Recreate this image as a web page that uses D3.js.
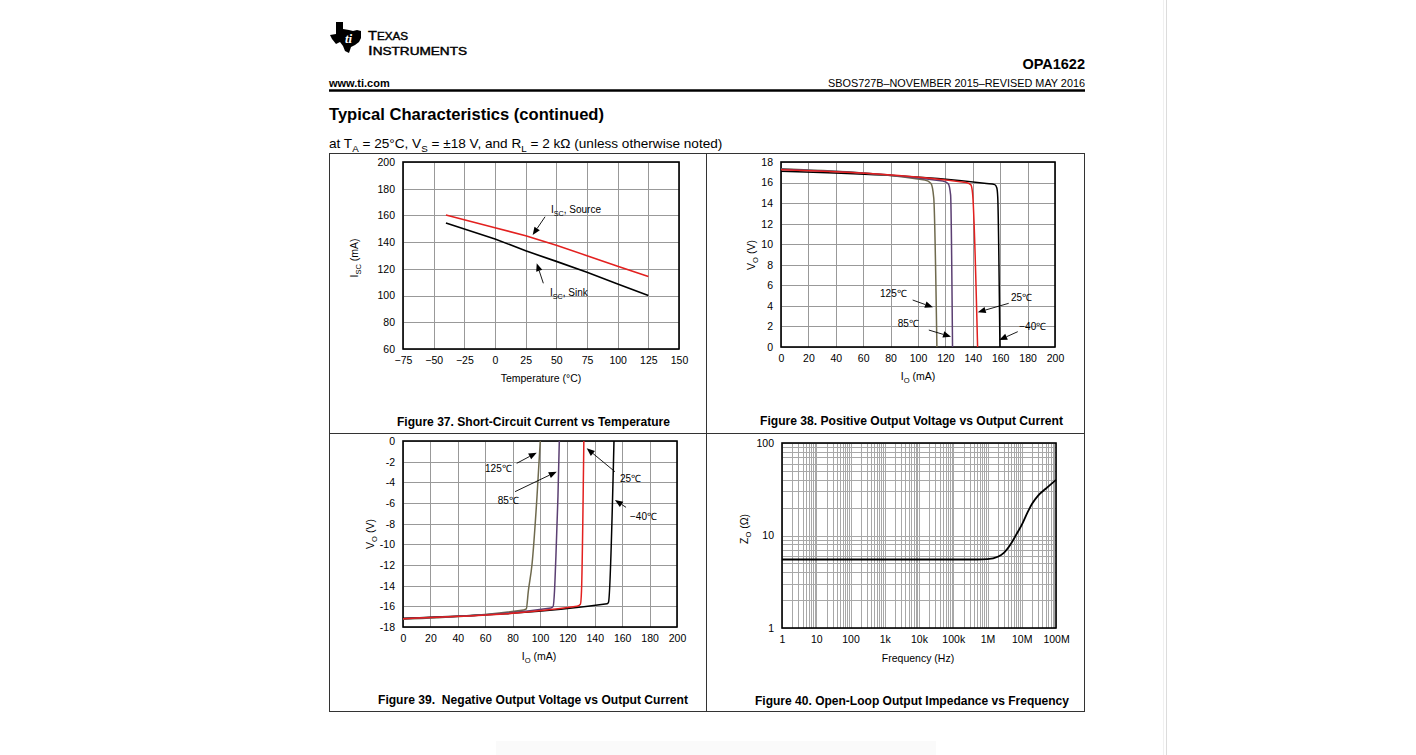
<!DOCTYPE html>
<html><head><meta charset="utf-8">
<script src="https://cdn.jsdelivr.net/npm/d3@7"></script>
<style>
html,body{margin:0;padding:0;background:#fff;}
svg{display:block;font-family:"Liberation Sans",Arial,sans-serif;}
text{white-space:pre;}
</style></head><body>
<svg id="c" width="1416" height="755"></svg>
<script>
// ---------------- DATA ----------------
// Figure 37: short-circuit current vs temperature
const fig37Temp   = [-40, 0, 25, 50, 75, 100, 125];
const fig37Source = [160.3, 150.8, 144.8, 137.6, 129.9, 121.9, 114.2];
const fig37Sink   = [154.3, 142.4, 133.5, 125.6, 117.4, 108.7, 100];
const fig37XTicks = [-75, -50, -25, 0, 25, 50, 75, 100, 125, 150];
const fig37YTicks = [60, 80, 100, 120, 140, 160, 180, 200];

// Figure 38: positive output voltage vs output current
const fig38IoM40 = [0, 150, 156, 157.5, 158.2, 159.8];
const fig38VoM40 = [17.1, 15.9, 15.8, 15.5, 14.6, 0];
const fig38Io25  = [0, 135, 138.5, 139.8, 143.5];
const fig38Vo25  = [17.25, 16.0, 15.8, 15.0, 0];
const fig38Io85  = [0, 118, 122, 123.8, 125.2];
const fig38Vo85  = [17.3, 16.15, 15.9, 14.8, 0];
const fig38Io125 = [0, 105, 109.5, 111.5, 113.8];
const fig38Vo125 = [17.35, 16.25, 15.9, 14.5, 0];
const fig38XTicks = [0, 20, 40, 60, 80, 100, 120, 140, 160, 180, 200];
const fig38YTicks = [0, 2, 4, 6, 8, 10, 12, 14, 16, 18];

// Figure 39: negative output voltage vs output current
const fig39IoM40 = [0, 149, 150, 154];
const fig39VoM40 = [-17.15, -15.75, -15.6, 0];
const fig39Io25  = [0, 127, 129.5, 130.3, 132];
const fig39Vo25  = [-17.2, -16.0, -15.8, -14.5, 0];
const fig39Io85  = [0, 108, 109.6, 110.6, 111.4, 113.1, 114.1];
const fig39Vo85  = [-17.2, -16.15, -16.0, -14.5, -11.9, -5.4, 0];
const fig39Io125 = [0, 88, 90, 91.5, 94.2, 97.8, 100.2];
const fig39Vo125 = [-17.25, -16.35, -16.25, -14.5, -11.9, -5.4, 0];
const fig39XTicks = [0, 20, 40, 60, 80, 100, 120, 140, 160, 180, 200];
const fig39YTicks = [-18, -16, -14, -12, -10, -8, -6, -4, -2, 0];

// Figure 40: open-loop output impedance vs frequency
const fig40Freq = [1, 10, 100, 1e3, 1e4, 1e5, 5e5, 1e6, 2e6, 3e6, 5e6, 7e6, 1e7, 1.5e7, 2e7, 3e7, 5e7, 1e8];
const fig40Zo   = [5.5, 5.5, 5.5, 5.5, 5.5, 5.5, 5.5, 5.55, 5.9, 6.5, 8.3, 10.3, 13, 18, 22, 27, 32, 40];
const fig40XTicks = [1, 10, 100, 1e3, 1e4, 1e5, 1e6, 1e7, 1e8];
const fig40XLabels = ["1", "10", "100", "1k", "10k", "100k", "1M", "10M", "100M"];
const fig40YTicks = [1, 10, 100];
const fig40YLabels = ["1", "10", "100"];

const tempLabels = ["125℃", "85℃", "25℃", "−40℃"];

// ---------------- DRAWING ----------------
const svg = d3.select("#c");
const FONT = '"Liberation Sans",Arial,sans-serif';
const C_RED = "#e3201f", C_PURPLE = "#5b3f72", C_OLIVE = "#6f6a4e", C_BLACK = "#000";

// right page edge shadow
svg.append("line").attr("x1",1163.5).attr("x2",1163.5).attr("y1",0).attr("y2",755).attr("stroke","#f0f0f0");
svg.append("line").attr("x1",1166.5).attr("x2",1166.5).attr("y1",0).attr("y2",755).attr("stroke","#dcdcdc");
svg.append("rect").attr("x",496).attr("y",741).attr("width",440).attr("height",14).attr("fill","#fafafa");

// ---- header ----
const logo = svg.append("g");
logo.append("path").attr("d",
 "M336,22 L343,22 L343,29 L349,30 L353,31 L357,30 L361,31 L361,38 L359,42 L355,45 L351,47 L349,53 L345,51 L343,46 L340,42 L336,44 L332,39 L330,35 L336,34 Z")
 .attr("fill","#000");
logo.append("text").attr("x",345).attr("y",43).attr("font-size",13).attr("font-style","italic")
 .attr("font-weight","bold").attr("fill","#fff").attr("font-family","Liberation Serif, serif").text("ti");
function logoLine(y, big, rest, len) {
  const t = logo.append("text").attr("x",368).attr("y",y).attr("font-family",'"Liberation Sans Narrow",sans-serif')
    .attr("font-size",12.5).attr("fill","#000").attr("stroke","#000").attr("stroke-width",0.4)
    .attr("textLength",len).attr("lengthAdjust","spacingAndGlyphs");
  t.append("tspan").text(big);
  t.append("tspan").attr("font-size",10).text(rest);
}
logoLine(40, "T", "EXAS", 40);
logoLine(54.5, "I", "NSTRUMENTS", 99);

svg.append("text").attr("x",1085).attr("y",69).attr("text-anchor","end").attr("font-weight","bold")
 .attr("font-size",14.5).text("OPA1622");
svg.append("text").attr("x",329).attr("y",87).attr("font-weight","bold").attr("font-size",11).text("www.ti.com");
svg.append("text").attr("x",1085).attr("y",87).attr("text-anchor","end").attr("font-size",10.5)
 .attr("textLength",257).attr("lengthAdjust","spacingAndGlyphs").text("SBOS727B\u2013NOVEMBER 2015\u2013REVISED MAY 2016");
svg.append("line").attr("x1",329).attr("x2",1085).attr("y1",90.5).attr("y2",90.5).attr("stroke","#000").attr("stroke-width",2.5);
svg.append("text").attr("x",329).attr("y",120).attr("font-weight","bold").attr("font-size",17)
 .attr("textLength",275).attr("lengthAdjust","spacingAndGlyphs").text("Typical Characteristics (continued)");

function rich(g, x, y, parts, size, anchor) {
  const t = g.append("text").attr("x",x).attr("y",y).attr("font-size",size).attr("text-anchor",anchor||"start");
  let sub = false;
  parts.forEach(p => {
    const s = t.append("tspan").text(p[0]);
    if (p[1] && !sub) { s.attr("dy", size*0.3).attr("font-size", size*0.72); sub = true; }
    else if (!p[1] && sub) { s.attr("dy", -size*0.3); sub = false; }
  });
  return t;
}
rich(svg, 329, 148, [["at T"],["A",1],[" = 25°C, V"],["S",1],[" = ±18 V, and R"],["L",1],[" = 2 kΩ (unless otherwise noted)"]], 13.6);

// frame
const fr = svg.append("g").attr("stroke","#333").attr("fill","none").attr("stroke-width",1);
fr.append("rect").attr("x",329.5).attr("y",153.5).attr("width",755).attr("height",558);
fr.append("line").attr("x1",706.5).attr("x2",706.5).attr("y1",153.5).attr("y2",711.5);
fr.append("line").attr("x1",329.5).attr("x2",1084.5).attr("y1",433.5).attr("y2",433.5);

// captions
function caption(x1, x2, y, txt) {
  svg.append("text").attr("x",x1).attr("y",y).attr("font-weight","bold").attr("font-size",12)
    .attr("textLength",x2-x1).attr("lengthAdjust","spacingAndGlyphs").text(txt);
}
caption(397, 670, 425.5, "Figure 37. Short-Circuit Current vs Temperature");
caption(760, 1063, 424.5, "Figure 38. Positive Output Voltage vs Output Current");
caption(378, 688, 703.5, "Figure 39.  Negative Output Voltage vs Output Current");
caption(755, 1069, 704.5, "Figure 40. Open-Loop Output Impedance vs Frequency");

// generic panel
function panel(o) {
  const g = svg.append("g");
  const [X0, X1] = o.x.range(), [Y1, Y0] = o.y.range();
  const grid = g.append("g").attr("fill","none");
  (o.xGrid||[]).forEach(v => grid.append("line").attr("x1",Math.round(o.x(v))+0.5).attr("x2",Math.round(o.x(v))+0.5)
     .attr("y1",Y0).attr("y2",Y1).attr("stroke",o.gridColor||"#999").attr("stroke-width",1));
  (o.yGrid||[]).forEach(v => grid.append("line").attr("y1",Math.round(o.y(v))+0.5).attr("y2",Math.round(o.y(v))+0.5)
     .attr("x1",X0).attr("x2",X1).attr("stroke",o.gridColor||"#999").attr("stroke-width",1));
  const ax = d3.axisBottom(o.x).tickValues(o.xTicks).tickSize(0).tickPadding(8).tickFormat(o.xFmt);
  const gx = g.append("g").attr("transform",`translate(0,${Y1})`).call(ax);
  gx.select(".domain").remove();
  gx.selectAll("text").attr("font-size",10.5).attr("font-family",FONT).attr("fill","#000");
  const ay = d3.axisLeft(o.y).tickValues(o.yTicks).tickSize(0).tickPadding(8).tickFormat(o.yFmt);
  const gy = g.append("g").attr("transform",`translate(${X0},0)`).call(ay);
  gy.select(".domain").remove();
  gy.selectAll("text").attr("font-size",10.5).attr("font-family",FONT).attr("fill","#000");
  g.append("rect").attr("x",X0).attr("y",Y0).attr("width",X1-X0).attr("height",Y1-Y0)
   .attr("fill","none").attr("stroke","#000").attr("stroke-width",1.6);
  return g;
}
function series(g, x, y, xs, ys, color, w, curve) {
  const pts = xs.map((v,i)=>[v, ys[i]]);
  g.append("path").datum(pts).attr("fill","none").attr("stroke",color).attr("stroke-width",w)
   .attr("stroke-linejoin","round")
   .attr("d", d3.line().x(d=>x(d[0])).y(d=>y(d[1])).curve(curve||d3.curveLinear));
}
function arrow(g, x, y, tail, head) {
  const x1=x(tail[0]), y1=y(tail[1]), x2=x(head[0]), y2=y(head[1]);
  const a = Math.atan2(y2-y1, x2-x1), L=8, W=3.2;
  const bx = x2 - L*Math.cos(a), by = y2 - L*Math.sin(a);
  g.append("line").attr("x1",x1).attr("y1",y1).attr("x2",bx).attr("y2",by).attr("stroke","#000").attr("stroke-width",0.9);
  g.append("path").attr("d",`M${x2},${y2}L${bx - W*Math.sin(a)},${by + W*Math.cos(a)}L${bx + W*Math.sin(a)},${by - W*Math.cos(a)}Z`).attr("fill","#000");
}
function label(g, x, y, pos, txt) {
  g.append("text").attr("x",x(pos[0])).attr("y",y(pos[1])).attr("font-size",10).text(txt);
}
function yTitle(cx, cy, parts) {
  const g = svg.append("g").attr("transform",`translate(${cx},${cy}) rotate(-90)`);
  rich(g, 0, 0, parts, 10.5, "middle");
}
function xTitle(cx, y, parts) { rich(svg, cx, y, parts, 10.5, "middle"); }

// ---- Figure 37 ----
{
  const x = d3.scaleLinear().domain([-75,150]).range([403,679]);
  const y = d3.scaleLinear().domain([60,200]).range([349,162]);
  const g = panel({x, y, xTicks:fig37XTicks, yTicks:fig37YTicks, xGrid:fig37XTicks, yGrid:fig37YTicks,
    xFmt:d=>d<0?"\u2212"+(-d):String(d), yFmt:d=>String(d)});
  series(g, x, y, fig37Temp, fig37Sink, C_BLACK, 1.6);
  series(g, x, y, fig37Temp, fig37Source, C_RED, 1.6);
  arrow(g, x, y, [40.8,159], [30.7,145.3]);
  arrow(g, x, y, [39.4,109.2], [34,124.2]);
  rich(g, x(45.6), y(162), [["I"],["SC",1],[", Source"]], 10);
  rich(g, x(44.8), y(99.7), [["I"],["SC",1],[", Sink"]], 10);
  yTitle(358, 258, [["I"],["SC",1],[" (mA)"]]);
  xTitle(541, 382, [["Temperature (°C)"]]);
}
// ---- Figure 38 ----
{
  const x = d3.scaleLinear().domain([0,200]).range([781,1055]);
  const y = d3.scaleLinear().domain([0,18]).range([347,162]);
  const g = panel({x, y, xTicks:fig38XTicks, yTicks:fig38YTicks, xGrid:fig38XTicks, yGrid:fig38YTicks,
    xFmt:d=>String(d), yFmt:d=>String(d)});
  const cv = d3.curveMonotoneX;
  series(g, x, y, fig38IoM40, fig38VoM40, C_BLACK, 1.5, cv);
  series(g, x, y, fig38Io125, fig38Vo125, C_OLIVE, 1.5, cv);
  series(g, x, y, fig38Io85, fig38Vo85, C_PURPLE, 1.5, cv);
  series(g, x, y, fig38Io25, fig38Vo25, C_RED, 1.5, cv);
  label(g, x, y, [72.3,4.86], tempLabels[0]);
  arrow(g, x, y, [96.1,4.57], [110.9,3.86]);
  label(g, x, y, [85.2,1.95], tempLabels[1]);
  arrow(g, x, y, [107.9,1.65], [124.1,1.0]);
  label(g, x, y, [167.9,4.47], tempLabels[2]);
  arrow(g, x, y, [166.2,4.25], [143.6,3.38]);
  label(g, x, y, [173.9,1.65], tempLabels[3]);
  arrow(g, x, y, [172.8,1.49], [159.3,0.68]);
  yTitle(755, 255, [["V"],["O",1],[" (V)"]]);
  xTitle(918, 380, [["I"],["O",1],[" (mA)"]]);
}
// ---- Figure 39 ----
{
  const x = d3.scaleLinear().domain([0,200]).range([403,677]);
  const y = d3.scaleLinear().domain([-18,0]).range([627,441]);
  const g = panel({x, y, xTicks:fig39XTicks, yTicks:fig39YTicks, xGrid:fig39XTicks, yGrid:fig39YTicks,
    xFmt:d=>String(d), yFmt:d=>String(d)});
  const cv = d3.curveMonotoneX;
  series(g, x, y, fig39IoM40, fig39VoM40, C_BLACK, 1.5, cv);
  series(g, x, y, fig39Io125, fig39Vo125, C_OLIVE, 1.5, cv);
  series(g, x, y, fig39Io85, fig39Vo85, C_PURPLE, 1.5, cv);
  series(g, x, y, fig39Io25, fig39Vo25, C_RED, 1.5, cv);
  label(g, x, y, [59.9,-3.0], tempLabels[0]);
  arrow(g, x, y, [83,-2.16], [97.6,-1.13]);
  label(g, x, y, [69.1,-6.1], tempLabels[1]);
  arrow(g, x, y, [81.8,-4.9], [112.2,-2.97]);
  label(g, x, y, [158.4,-3.97], tempLabels[2]);
  arrow(g, x, y, [154.7,-2.97], [134.1,-0.71]);
  label(g, x, y, [165.7,-7.65], tempLabels[3]);
  arrow(g, x, y, [162.8,-6.42], [154.7,-5.71]);
  yTitle(374, 534, [["V"],["O",1],[" (V)"]]);
  xTitle(539, 660, [["I"],["O",1],[" (mA)"]]);
}
// ---- Figure 40 ----
{
  const x = d3.scaleLog().domain([1,1e8]).range([782,1056]);
  const y = d3.scaleLog().domain([1,100]).range([628,443]);
  const xg = [], yg = [];
  d3.range(0,8).forEach(d => d3.range(1,10).forEach(k => xg.push(k*Math.pow(10,d))));
  xg.push(1e8);
  d3.range(0,2).forEach(d => d3.range(1,10).forEach(k => yg.push(k*Math.pow(10,d))));
  yg.push(100);
  const g = panel({x, y, xTicks:fig40XTicks, yTicks:fig40YTicks, xGrid:xg, yGrid:yg, gridColor:"#a8a8a8",
    xFmt:(d,i)=>fig40XLabels[i], yFmt:(d,i)=>fig40YLabels[i]});
  series(g, x, y, fig40Freq, fig40Zo, C_BLACK, 1.8, d3.curveMonotoneX);
  yTitle(748, 529, [["Z"],["O",1],[" (Ω)"]]);
  xTitle(918, 662, [["Frequency (Hz)"]]);
}
</script>
</body></html>
